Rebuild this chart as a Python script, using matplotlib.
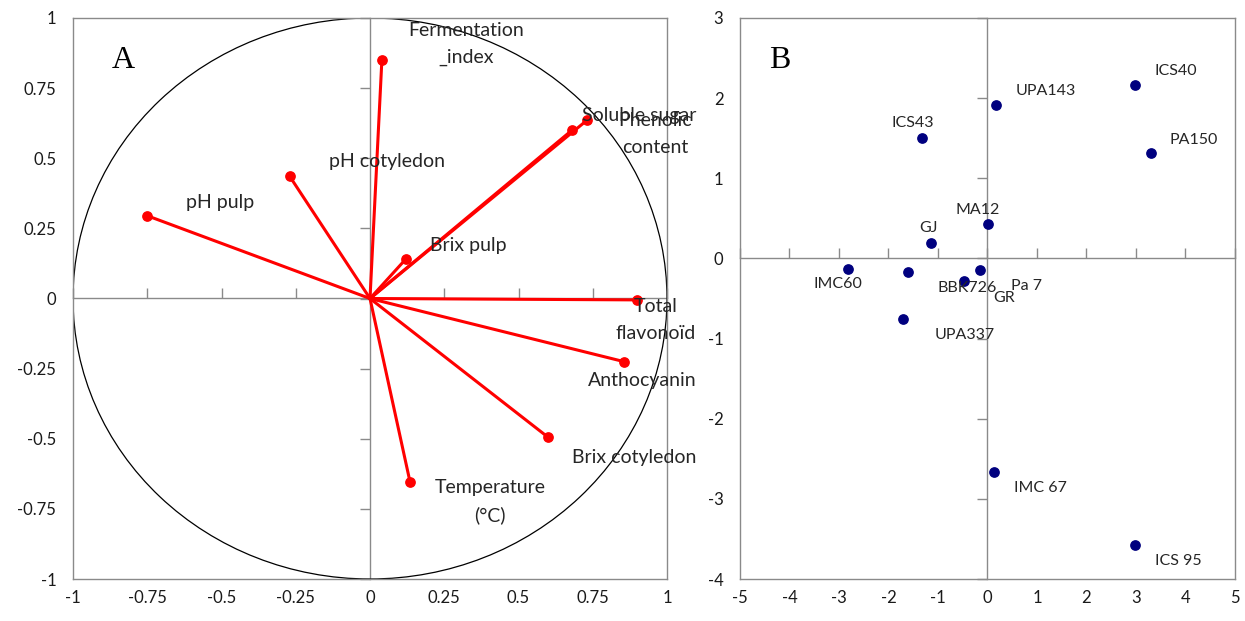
import matplotlib
matplotlib.use('Agg')
import matplotlib.pyplot as plt
from matplotlib.patches import Circle
from matplotlib.ticker import MultipleLocator, FuncFormatter

plt.rcParams['font.family'] = ['Lato', 'DejaVu Sans']

# panel A: variable loadings on F1/F2
variables = ['Fermentation\n_index', 'Soluble sugar', 'Phenolic\ncontent', 'pH cotyledon', 'pH pulp',
             'Brix pulp', 'Total\nflavonoïd', 'Anthocyanin', 'Brix cotyledon', 'Temperature\n(°C)']
load_x = [0.04, 0.68, 0.73, -0.27, -0.75, 0.12, 0.90, 0.855, 0.60, 0.135]
load_y = [0.85, 0.60, 0.635, 0.435, 0.295, 0.14, -0.005, -0.225, -0.495, -0.655]
# label offsets from the tip, in pixels (right, up)
var_offsets = [(84, 16), (67, 15), (68, -14), (97, 15), (73, 13),
               (63, 14), (18, -20), (18, -19), (86, -20), (80, -19)]

# panel B: cultivar scores
cultivars = ['ICS40', 'UPA143', 'ICS43', 'PA150', 'MA12', 'GJ', 'IMC60',
             'BBK726', 'GR', 'Pa 7', 'UPA337', 'IMC 67', 'ICS 95']
score_x = [2.98, 0.17, -1.32, 3.30, 0.01, -1.14, -2.82, -1.61, -0.47, -0.15, -1.71, 0.13, 2.98]
score_y = [2.16, 1.91, 1.50, 1.31, 0.43, 0.19, -0.13, -0.17, -0.28, -0.14, -0.76, -2.67, -3.57]
cult_offsets = [(41, 14), (50, 14), (-9, 15), (43, 13), (-10, 14), (-3, 15), (-10, -15),
                (59, -16), (40, -17), (46, -16), (62, -16), (47, -16), (43, -16)]

GREY = '#8a8a8a'
W, H = 1245, 621

fig = plt.figure(figsize=(W / 100, H / 100), dpi=100)
axA = fig.add_axes([73 / W, 42 / H, 594 / W, 561 / H])
axB = fig.add_axes([740 / W, 42 / H, 495 / W, 561 / H])


def frame(ax, xlim, ylim, step, fmt):
    ax.set_xlim(*xlim)
    ax.set_ylim(*ylim)
    for s in ax.spines.values():
        s.set_color(GREY)
        s.set_linewidth(1)
    ax.xaxis.set_major_locator(MultipleLocator(step[0]))
    ax.yaxis.set_major_locator(MultipleLocator(step[1]))
    ax.xaxis.set_major_formatter(FuncFormatter(fmt))
    ax.yaxis.set_major_formatter(FuncFormatter(fmt))
    ax.tick_params(length=0, labelsize=12, labelcolor='#1a1a1a')
    ax.tick_params(axis='x', pad=8)
    ax.tick_params(axis='y', pad=12)

    # zero lines with their own tick marks
    y0 = (0 - ylim[0]) / (ylim[1] - ylim[0])
    x0 = (0 - xlim[0]) / (xlim[1] - xlim[0])
    sx = ax.secondary_xaxis(y0)
    sx.xaxis.set_major_locator(MultipleLocator(step[0]))
    sx.tick_params(direction='out', length=7, width=1, color=GREY,
                   labeltop=False, labelbottom=False)
    sy = ax.secondary_yaxis(x0)
    sy.set_alignment('left')
    sy.yaxis.set_major_locator(MultipleLocator(step[1]))
    sy.tick_params(direction='out', length=7, width=1, color=GREY,
                   labelleft=False, labelright=False)
    for sec in (sx, sy):
        for s in sec.spines.values():
            s.set_color(GREY)
            s.set_linewidth(1)
        sec.set_zorder(0.5)


frame(axA, (-1, 1), (-1, 1), (0.25, 0.25), lambda v, p: f'{v:g}')
frame(axB, (-5, 5), (-4, 3), (1, 1), lambda v, p: f'{v:g}')

# correlation circle
axA.add_patch(Circle((0, 0), 1, fill=False, ec='black', lw=0.9, zorder=1))

for x, y in zip(load_x, load_y):
    axA.plot([0, x], [0, y], color='#ff0000', lw=2.2, zorder=3)
axA.scatter(load_x, load_y, s=45, color='#ff0000', zorder=4)
for name, x, y, off in zip(variables, load_x, load_y, var_offsets):
    axA.annotate(name, (x, y), xytext=off, textcoords='offset pixels',
                 ha='center', va='center', fontsize=14, color='#262626',
                 linespacing=1.7, zorder=5)

axB.scatter(score_x, score_y, s=45, color='#00007f', zorder=4)
for name, x, y, off in zip(cultivars, score_x, score_y, cult_offsets):
    axB.annotate(name, (x, y), xytext=off, textcoords='offset pixels',
                 ha='center', va='center', fontsize=11.5, color='#262626', zorder=5)

axA.text(0.085, 0.925, 'A', transform=axA.transAxes, ha='center', va='center',
         fontsize=23, family='Liberation Serif')
axB.text(0.081, 0.925, 'B', transform=axB.transAxes, ha='center', va='center',
         fontsize=23, family='Liberation Serif')

fig.savefig('out.png', dpi=100)
